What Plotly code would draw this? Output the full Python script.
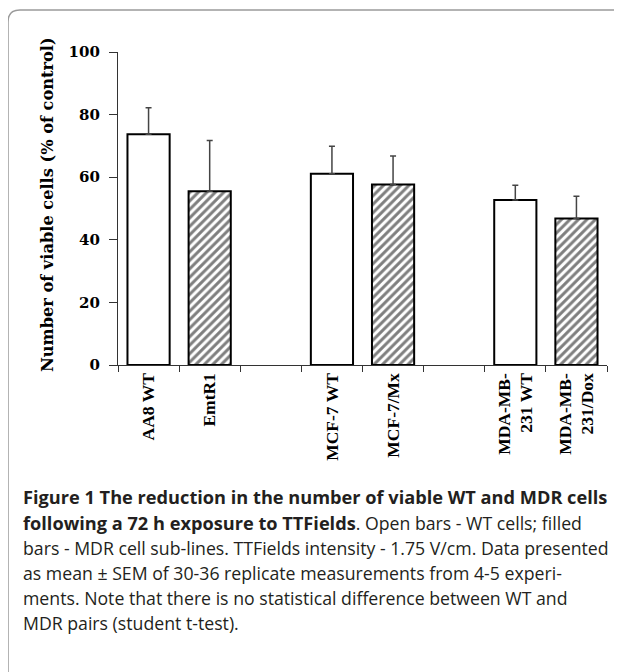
import plotly.graph_objects as go

# ---- data ----
categories = ["AA8 WT", "EmtR1", " ", "MCF-7 WT", "MCF-7/Mx", "  ",
              "MDA-MB-<br>231 WT", "MDA-MB-<br>231/Dox"]
wt_labels = ["AA8 WT", "MCF-7 WT", "MDA-MB-<br>231 WT"]
wt_values = [73.7, 61.1, 52.7]
wt_err = [8.5, 8.8, 4.7]
mdr_labels = ["EmtR1", "MCF-7/Mx", "MDA-MB-<br>231/Dox"]
mdr_values = [55.5, 57.7, 46.8]
mdr_err = [16.2, 9.1, 7.1]
y_ticks = [0, 20, 40, 60, 80, 100]
y_title = "Number of viable cells (% of control)"

B1 = "<b><span style='font-size:18.2px'>"
B2 = "</span></b>"
caption_lines = [
    B1 + "Figure 1 The reduction in the number of viable WT and MDR cells" + B2,
    B1 + "following a 72 h exposure to TTFields" + B2 + ". Open bars - WT cells; filled",
    "bars - MDR cell sub-lines. TTFields intensity - 1.75 V/cm. Data presented",
    "as mean ± SEM of 30-36 replicate measurements from 4-5 experi-",
    "ments. Note that there is no statistical difference between WT and",
    "MDR pairs (student t-test).",
]

# ---- layout geometry (pixels, page has 8px body offset) ----
OFF = 8
W, H = 622 - OFF, 672 - OFF
L = 118 - OFF
T = 52 - OFF
R = W - (607 - OFF)
B = H - (365 - OFF)
PW, PH = W - L - R, H - T - B


def px_x(x):
    return (x - OFF - L) / PW


def px_y(y):
    return (H - B - (y - OFF)) / PH


fig = go.Figure()
fig.add_trace(go.Bar(
    x=wt_labels, y=wt_values, width=0.69,
    marker=dict(color="white", line=dict(color="black", width=2)),
    error_y=dict(type="data", array=wt_err, arrayminus=[0] * len(wt_err),
                 color="#444", thickness=1.5, width=3),
    showlegend=False,
))
fig.add_trace(go.Bar(
    x=mdr_labels, y=mdr_values, width=0.69,
    marker=dict(color="white", line=dict(color="black", width=2),
                pattern=dict(shape="/", fgcolor="black", bgcolor="white",
                             size=6, solidity=0.5)),
    error_y=dict(type="data", array=mdr_err, arrayminus=[0] * len(mdr_err),
                 color="#444", thickness=1.5, width=3),
    showlegend=False,
))

fig.update_layout(
    width=W, height=H,
    margin=dict(l=L, r=R, t=T, b=B),
    paper_bgcolor="white", plot_bgcolor="white",
    barmode="overlay",
    xaxis=dict(
        type="category", categoryorder="array", categoryarray=categories,
        range=[-0.5, len(categories) - 0.5],
        tickson="boundaries", ticks="outside", ticklen=6, tickcolor="#333",
        tickwidth=1.2, showline=True, linecolor="#333", linewidth=1.3,
        tickangle=-90, showgrid=False,
        tickfont=dict(family="Liberation Serif", size=17.5, color="black",
                      weight="bold"),
    ),
    yaxis=dict(
        range=[0, 100], tickvals=y_ticks, ticks="outside", ticklen=8,
        tickcolor="#333", tickwidth=1.2, showline=True, linecolor="#333",
        linewidth=1.3, showgrid=False, zeroline=False,
        ticklabelstandoff=6,
        tickfont=dict(family="DejaVu Serif", size=15, color="black",
                      weight="bold"),
    ),
)

# y-axis title
fig.add_annotation(
    text=f"<b>{y_title}</b>", textangle=-90, xref="paper", yref="paper",
    x=px_x(47), y=px_y(205), xanchor="center", yanchor="middle",
    showarrow=False,
    font=dict(family="DejaVu Serif", size=16.2, color="black"),
)

# caption
line_y = [497, 523, 548, 573, 598, 623]
for txt, yy in zip(caption_lines, line_y):
    fig.add_annotation(
        text=txt, xref="paper", yref="paper", x=px_x(21), y=px_y(yy),
        xanchor="left", yanchor="middle", showarrow=False,
        font=dict(family="Open Sans", size=17.7, color="#231f20"),
    )

# framing border with rounded corner
x0, y0, r = 8, 10, 12
path = (f"M {px_x(x0)},{px_y(H + 40)} L {px_x(x0)},{px_y(y0 + r)} "
        f"Q {px_x(x0)},{px_y(y0)} {px_x(x0 + r)},{px_y(y0)} "
        f"L {px_x(W + 40)},{px_y(y0)}")
fig.add_shape(type="path", path=path, xref="paper", yref="paper",
              line=dict(color="#9a9a9a", width=1.5))

fig.write_html("out.html")
